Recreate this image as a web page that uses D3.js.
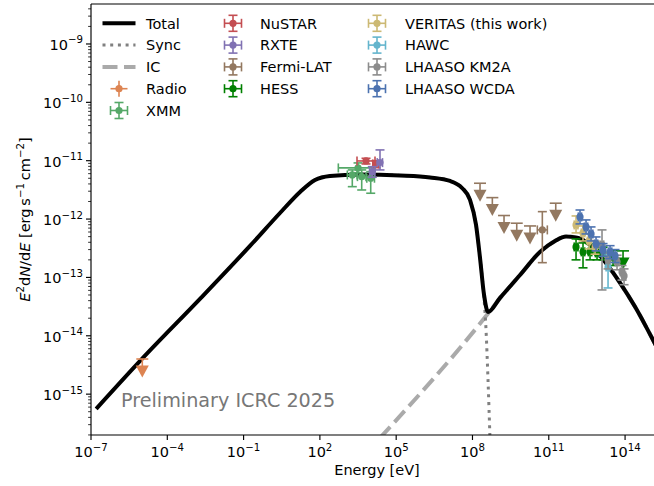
<!DOCTYPE html>
<html><head><meta charset="utf-8">
<script src="https://cdn.jsdelivr.net/npm/d3@7"></script>
<style>body{margin:0;background:#fff}svg{display:block}text{font-family:"DejaVu Sans",sans-serif;}</style>
</head><body><svg id="c" width="654" height="486"></svg>
<script>
// ---------------- data (E [eV], E^2 dN/dE [erg s^-1 cm^-2]) ----------------
const totalCurve = [[1.6e-7,5.6e-16],[1.01e-5,4.02e-15],[1.93e-3,4.29e-14],[0.179,3.47e-13],[2.70,1.27e-12],[16.6,2.92e-12],[64.3,4.68e-12],[250,5.48e-12],[3.78e3,5.82e-12],[1.42e5,5.6e-12],[2.14e6,5.17e-12],[1.31e7,4.5e-12],[3.88e7,3.41e-12],[8.0e7,2.13e-12],[1.38e8,7.94e-13],[1.98e8,2.16e-13],[2.85e8,5.02e-14],[4.08e8,2.56e-14],[1.21e9,4.46e-14],[7.41e9,1.10e-13],[4.53e10,2.74e-13],[1.76e11,4.22e-13],[4.77e11,5.04e-13],[1.42e12,4.75e-13],[4.19e12,3.61e-13],[1.63e13,1.85e-13],[6.34e13,8.05e-14],[2.47e14,3.13e-14],[6.10e14,1.54e-14],[1.65e15,6.71e-15]];
const syncCurve = [[1.6e-7,5.6e-16],[1.01e-5,4.02e-15],[1.93e-3,4.29e-14],[0.179,3.47e-13],[2.70,1.27e-12],[16.6,2.92e-12],[64.3,4.68e-12],[250,5.48e-12],[3.78e3,5.82e-12],[1.42e5,5.6e-12],[2.14e6,5.17e-12],[1.31e7,4.5e-12],[3.88e7,3.41e-12],[8.0e7,2.13e-12],[1.38e8,7.94e-13],[1.98e8,2.16e-13],[2.8e8,4.8e-14],[3.41e8,1.26e-14],[4.08e8,1.76e-15],[4.9e8,1.65e-16]];
const icCurve = [[2.32e4,1.78e-16],[4.08e8,2.4e-14],[1.21e9,4.4e-14],[7.41e9,1.10e-13],[4.53e10,2.74e-13],[1.76e11,4.22e-13],[4.77e11,5.04e-13],[1.42e12,4.75e-13],[4.19e12,3.61e-13],[1.63e13,1.85e-13],[6.34e13,8.05e-14],[2.47e14,3.13e-14],[6.10e14,1.54e-14],[1.65e15,6.71e-15]];

// points: [E, F, Elo, Ehi, Flo, Fhi]
const xmmPts = [[3.16e3,7.52e-12,531,1.47e4,6.2e-12,9.16e-12],[1.88e3,5.70e-12,1.2e3,2.9e3,3.59e-12,6.95e-12],[4.41e3,5.33e-12,3.0e3,6.5e3,3.15e-12,6.95e-12],[9.97e3,5.01e-12,7.0e3,1.4e4,2.77e-12,6.5e-12]];
const nustarPts = [[6.52e3,9.9e-12,2.88e3,1.47e4,8.8e-12,1.1e-11],[1.61e4,8.8e-12,1.2e4,2.1e4,7.6e-12,1.0e-11]];
const rxtePts = [[1.15e4,6.5e-12,9.0e3,1.45e4,5.2e-12,7.9e-12],[2.31e4,9.27e-12,1.8e4,2.9e4,6.95e-12,1.53e-11]];
const fermiPts = [[5.58e10,6.52e-13,3.55e10,8.77e10,1.79e-13,1.34e-12]];
const hessPts = [[1.18e12,3.33e-13,1.0e12,1.4e12,2.0e-13,4.57e-13],[2.22e12,2.74e-13,1.9e12,2.6e12,1.46e-13,3.90e-13],[4.19e12,2.74e-13,3.6e12,4.9e12,2.0e-13,3.75e-13],[7.9e12,2.63e-13,6.8e12,9.2e12,2.0e-13,3.3e-13],[1.36e13,2.63e-13,1.15e13,1.6e13,2.0e-13,3.3e-13],[3.37e13,2.25e-13,2.8e13,4.0e13,1.6e-13,2.9e-13]];
const veritasPts = [[1.18e12,7.94e-13,1.0e12,1.4e12,5.79e-13,1.13e-12],[2.22e12,5.79e-13,1.9e12,2.6e12,4.22e-13,7.62e-13],[3.83e12,4.22e-13,3.3e12,4.4e12,3.08e-13,5.56e-13],[6.6e12,3.33e-13,5.7e12,7.6e12,2.5e-13,4.2e-13]];
const hawcPts = [[2.14e13,1.51e-13,1.8e13,2.5e13,6.6e-14,2.43e-13]];
const km2aPts = [[1.24e13,3.61e-13,1.05e13,1.45e13,6.1e-14,6.52e-13],[2.14e13,2.0e-13,1.8e13,2.5e13,1.4e-13,2.6e-13],[4.83e13,1.85e-13,4.1e13,5.7e13,1.35e-13,2.4e-13],[7.6e13,1.24e-13,6.5e13,8.9e13,9.0e-14,1.6e-13],[9.12e13,1.06e-13,8.0e13,1.05e14,7.5e-14,1.4e-13]];
const wcdaPts = [[1.69e12,1.09e-12,1.45e12,1.95e12,8.26e-13,1.43e-12],[2.92e12,7.33e-13,2.5e12,3.4e12,5.56e-13,9.67e-13],[4.59e12,5.56e-13,3.9e12,5.4e12,4.22e-13,7.33e-13],[7.22e12,3.75e-13,6.2e12,8.4e12,2.85e-13,4.94e-13],[1.36e13,2.96e-13,1.15e13,1.6e13,2.3e-13,3.8e-13],[2.57e13,2.74e-13,2.2e13,3.0e13,2.1e-13,3.5e-13],[4.03e13,2.34e-13,3.4e13,4.7e13,1.8e-13,3.0e-13]];

// upper limits: [E, F]
const radioUL = [[1.04e-5,4.0e-15]];
const fermiUL = [[1.98e8,4.11e-12],[6.04e8,2.33e-12],[1.74e9,1.15e-12],[5.50e9,8.49e-13],[1.83e10,7.62e-13],[1.88e11,1.87e-12]];
const hessUL = [[8.32e13,2.85e-13]];

const xTickExps = [-7,-4,-1,2,5,8,11,14];
const yTickExps = [-15,-14,-13,-12,-11,-10,-9];
const legendLabels = ["Total","Sync","IC","Radio","XMM","NuSTAR","RXTE","Fermi-LAT","HESS","VERITAS (this work)","HAWC","LHAASO KM2A","LHAASO WCDA"];
const annotation = "Preliminary ICRC 2025";

// ---------------- drawing ----------------
const col = {Radio:"#dd8452",XMM:"#55a868",NuSTAR:"#c44e52",RXTE:"#8172b3","Fermi-LAT":"#937860",HESS:"#008000","VERITAS (this work)":"#ccb974",HAWC:"#64b5cd","LHAASO KM2A":"#8c8c8c","LHAASO WCDA":"#4c72b0"};
const svg = d3.select("#c");
const L=91,T=4,R=663,B=435;
const x = d3.scaleLog().domain([1e-7,3.1e15]).range([L,R]);
const y = d3.scaleLog().domain([Math.pow(10,-15.7),Math.pow(10,-8.315)]).range([B,T]);
svg.append("rect").attr("width",654).attr("height",486).attr("fill","#fff");
svg.append("defs").append("clipPath").attr("id","clip").append("rect").attr("x",L).attr("y",T).attr("width",R-L).attr("height",B-T);
const plot = svg.append("g").attr("clip-path","url(#clip)");

const line = d3.line().x(d=>x(d[0])).y(d=>y(d[1])).curve(d3.curveMonotoneX);
plot.append("path").attr("d",line(icCurve)).attr("fill","none").attr("stroke","#aaaaaa").attr("stroke-width",4).attr("stroke-dasharray","15,6.5");
plot.append("path").attr("d",line(syncCurve)).attr("fill","none").attr("stroke","#808080").attr("stroke-width",3).attr("stroke-dasharray","3,4.7");
plot.append("path").attr("d",line(totalCurve)).attr("fill","none").attr("stroke","#000").attr("stroke-width",4);

function errPts(data,c){
  const g = plot.append("g").attr("stroke",c).attr("stroke-width",1.6).attr("fill","none");
  data.forEach(d=>{
    const cx=x(d[0]),cy=y(d[1]),x0=x(d[2]),x1=x(d[3]),y0=y(d[4]),y1=y(d[5]);
    g.append("line").attr("x1",cx).attr("x2",cx).attr("y1",y0).attr("y2",y1);
    g.append("line").attr("x1",cx-4.5).attr("x2",cx+4.5).attr("y1",y0).attr("y2",y0);
    g.append("line").attr("x1",cx-4.5).attr("x2",cx+4.5).attr("y1",y1).attr("y2",y1);
    g.append("line").attr("x1",x0).attr("x2",x1).attr("y1",cy).attr("y2",cy);
    g.append("line").attr("x1",x0).attr("x2",x0).attr("y1",cy-4.5).attr("y2",cy+4.5);
    g.append("line").attr("x1",x1).attr("x2",x1).attr("y1",cy-4.5).attr("y2",cy+4.5);
  });
  data.forEach(d=>{
    plot.append("circle").attr("cx",x(d[0])).attr("cy",y(d[1])).attr("r",3.6).attr("fill",c);
  });
}
function ulPts(data,c){
  data.forEach(d=>{
    const cx=x(d[0]),cy=y(d[1]);
    const g = plot.append("g");
    g.append("line").attr("x1",cx-6).attr("x2",cx+6).attr("y1",cy).attr("y2",cy).attr("stroke",c).attr("stroke-width",1.6);
    g.append("line").attr("x1",cx).attr("x2",cx).attr("y1",cy).attr("y2",cy+7).attr("stroke",c).attr("stroke-width",1.6);
    g.append("path").attr("d",`M${cx-6.5},${cy+6.5}L${cx+6.5},${cy+6.5}L${cx},${cy+18.5}Z`).attr("fill",c);
  });
}
ulPts(radioUL,col.Radio);
errPts(xmmPts,col.XMM);
errPts(nustarPts,col.NuSTAR);
errPts(rxtePts,col.RXTE);
ulPts(fermiUL,col["Fermi-LAT"]);
errPts(fermiPts,col["Fermi-LAT"]);
errPts(hessPts,col.HESS);
ulPts(hessUL,col.HESS);
errPts(veritasPts,col["VERITAS (this work)"]);
errPts(hawcPts,col.HAWC);
errPts(km2aPts,col["LHAASO KM2A"]);
errPts(wcdaPts,col["LHAASO WCDA"]);

// annotation
svg.append("text").attr("x",121).attr("y",407).attr("font-size","19.2px").attr("fill","#777").text(annotation);

// axes
const ax = svg.append("g").attr("stroke","#000");
ax.append("line").attr("x1",L).attr("x2",L).attr("y1",T).attr("y2",B).attr("stroke-width",1.15);
ax.append("line").attr("x1",L).attr("x2",R).attr("y1",B).attr("y2",B).attr("stroke-width",1.15);
ax.append("line").attr("x1",L).attr("x2",R).attr("y1",T).attr("y2",T).attr("stroke-width",1.15);
xTickExps.forEach(e=>{
  const px=x(Math.pow(10,e));
  ax.append("line").attr("x1",px).attr("x2",px).attr("y1",B).attr("y2",B+5).attr("stroke-width",1.15);
  const t=svg.append("text").attr("x",px).attr("y",457).attr("text-anchor","middle").attr("font-size","14.5px").attr("fill","#000");
  t.append("tspan").text("10");
  t.append("tspan").attr("dy",-6.5).attr("font-size","10.2px").text(String(e).replace("-","\u2212"));
});
yTickExps.forEach(e=>{
  const py=y(Math.pow(10,e));
  ax.append("line").attr("x1",L-5).attr("x2",L).attr("y1",py).attr("y2",py).attr("stroke-width",1.15);
  const t=svg.append("text").attr("x",83).attr("y",py+6).attr("text-anchor","end").attr("font-size","14.5px").attr("fill","#000");
  t.append("tspan").text("10");
  t.append("tspan").attr("dy",-6.5).attr("font-size","10.2px").text(String(e).replace("-","\u2212"));
});
for(let e=-16;e<=-9;e++){for(let k=2;k<=9;k++){const v=k*Math.pow(10,e);const py=y(v);if(py>T&&py<B){ax.append("line").attr("x1",L-2.9).attr("x2",L).attr("y1",py).attr("y2",py).attr("stroke-width",0.8);}}}

// axis labels
svg.append("text").attr("x",(L+R)/2).attr("y",475).attr("text-anchor","middle").attr("font-size","14.5px").text("Energy [eV]");
const yl = svg.append("text").attr("transform",`translate(30,${(T+B)/2}) rotate(-90)`).attr("text-anchor","middle").attr("font-size","14.5px");
yl.append("tspan").attr("font-style","italic").text("E");
yl.append("tspan").attr("dy",-6).attr("font-size","10.2px").text("2");
yl.append("tspan").attr("dy",6).text("d");
yl.append("tspan").attr("font-style","italic").text("N");
yl.append("tspan").text("/d");
yl.append("tspan").attr("font-style","italic").text("E");
yl.append("tspan").text(" [erg\u2009s");
yl.append("tspan").attr("dy",-6).attr("font-size","10.2px").text("\u22121");
yl.append("tspan").attr("dy",6).text("\u2009cm");
yl.append("tspan").attr("dy",-6).attr("font-size","10.2px").text("\u22122");
yl.append("tspan").attr("dy",6).text("]");

// legend (no frame)
const lg = svg.append("g");
const rowY = i=>23.3+i*21.8;
const colX = [[119,146],[233,260],[377,405]];
const layout = [[0,0],[0,1],[0,2],[0,3],[0,4],[1,0],[1,1],[1,2],[1,3],[2,0],[2,1],[2,2],[2,3]];
legendLabels.forEach((lab,i)=>{
  const [c,r]=layout[i]; const hx=colX[c][0], tx=colX[c][1], yy=rowY(r);
  if(lab==="Total") lg.append("line").attr("x1",hx-16.5).attr("x2",hx+16.5).attr("y1",yy).attr("y2",yy).attr("stroke","#000").attr("stroke-width",4);
  else if(lab==="Sync") lg.append("line").attr("x1",hx-16.5).attr("x2",hx+16.5).attr("y1",yy).attr("y2",yy).attr("stroke","#808080").attr("stroke-width",3).attr("stroke-dasharray","3,4.7");
  else if(lab==="IC") lg.append("line").attr("x1",hx-16.5).attr("x2",hx+16.5).attr("y1",yy).attr("y2",yy).attr("stroke","#aaaaaa").attr("stroke-width",4).attr("stroke-dasharray","15,6.5");
  else {
    const c2=col[lab]; const g=lg.append("g").attr("stroke",c2).attr("stroke-width",1.6);
    g.append("line").attr("x1",hx-8.5).attr("x2",hx+8.5).attr("y1",yy).attr("y2",yy);
    g.append("line").attr("x1",hx).attr("x2",hx).attr("y1",yy-8).attr("y2",yy+8);
    if(lab!=="Radio"){
      g.append("line").attr("x1",hx-8.5).attr("x2",hx-8.5).attr("y1",yy-4.5).attr("y2",yy+4.5);
      g.append("line").attr("x1",hx+8.5).attr("x2",hx+8.5).attr("y1",yy-4.5).attr("y2",yy+4.5);
      g.append("line").attr("x1",hx-4.5).attr("x2",hx+4.5).attr("y1",yy-8).attr("y2",yy-8);
      g.append("line").attr("x1",hx-4.5).attr("x2",hx+4.5).attr("y1",yy+8).attr("y2",yy+8);
    }
    lg.append("circle").attr("cx",hx).attr("cy",yy).attr("r",3.6).attr("fill",c2);
  }
  lg.append("text").attr("x",tx).attr("y",yy+5.2).attr("font-size","14.5px").attr("fill","#000").text(lab);
});
</script></body></html>
